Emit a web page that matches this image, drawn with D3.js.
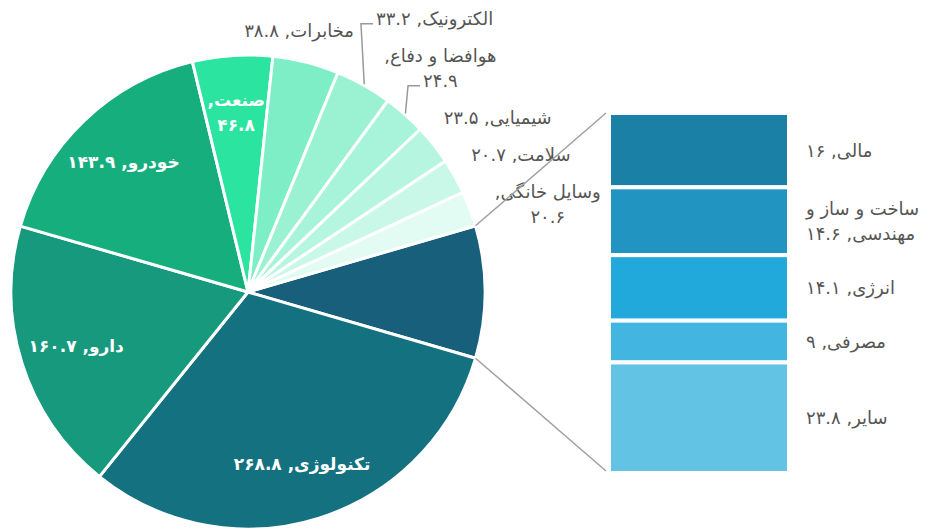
<!DOCTYPE html>
<html>
<head>
<meta charset="utf-8">
<script src="https://cdn.jsdelivr.net/npm/d3@7"></script>
<style>
  html, body { margin: 0; padding: 0; background: #fff; }
  svg { display: block; font-family: "DejaVu Sans", sans-serif; }
</style>
</head>
<body>
<svg id="chart" width="931" height="530"></svg>
<script>
// pie slices (clockwise after the "other" group)
const pieNames = ["تکنولوژی", "دارو", "خودرو", "صنعت", "مخابرات", "الکترونیک", "هوافضا و دفاع", "شیمیایی", "سلامت", "وسایل خانگی"];
const pieValues = [268.8, 160.7, 143.9, 46.8, 38.8, 33.2, 24.9, 23.5, 20.7, 20.6];
const pieColors = ["#147280", "#16997d", "#17ae7e", "#2ae49f", "#7deec6", "#9af2d2", "#a7f4da", "#b6f6e1", "#c9f8e9", "#e2fbf3"];

// breakdown of the "other" slice shown as a stacked bar
const barNames = ["مالی", "ساخت و ساز و مهندسی", "انرژی", "مصرفی", "سایر"];
const barValues = [16, 14.6, 14.1, 9, 23.8];
const barColors = ["#1b80a5", "#2194c1", "#22a9db", "#42b6e1", "#63c3e4"];
const otherColor = "#185f7c";

const insideMin = 40; // slices at least this big get the label inside
const fs = 18, fsIn = 17;
const RLM = "\u200F"; // keeps a trailing comma on the left of a wrapped line

const fa = s => String(s).replace(/\d/g, d => "۰۱۲۳۴۵۶۷۸۹"[d]);
const label = (n, v) => n + ", " + fa(v);

const svg = d3.select("#chart");
const cx = 248, cy = 292, r = 237;

// measure helper for wrapping
const meas = svg.append("text").attr("visibility", "hidden");
function textW(s, size, weight) {
  meas.attr("font-size", size).attr("font-weight", weight || "normal").text(s);
  return meas.node().getComputedTextLength();
}
function wrap(s, maxW, size, weight) {
  const words = s.split(" ");
  const lines = [];
  let cur = "";
  words.forEach(w => {
    const t = cur ? cur + " " + w : w;
    if (cur && textW(t, size, weight) > maxW) { lines.push(cur); cur = w; }
    else cur = t;
  });
  lines.push(cur);
  return lines.map(l => l + RLM);
}

const otherSum = d3.sum(barValues);
const total = otherSum + d3.sum(pieValues);
const half = otherSum / total * Math.PI;

const slices = [{ name: null, value: otherSum, color: otherColor }]
  .concat(pieNames.map((n, i) => ({ name: n, value: pieValues[i], color: pieColors[i] })));

const pie = d3.pie().sort(null).value(d => d.value)
  .startAngle(Math.PI / 2 - half).endAngle(Math.PI / 2 - half + 2 * Math.PI);
const arcs = pie(slices);
const arc = d3.arc().innerRadius(0).outerRadius(r);

const g = svg.append("g").attr("transform", `translate(${cx},${cy})`);
g.selectAll("path").data(arcs).join("path")
  .attr("d", arc)
  .attr("fill", d => d.data.color)
  .attr("stroke", "#fff")
  .attr("stroke-width", 3)
  .attr("stroke-linejoin", "round");

const pt = (a, rr) => [cx + rr * Math.sin(a), cy - rr * Math.cos(a)];

// inside labels
const rin = r * 0.76;
arcs.filter(d => d.data.name && d.data.value >= insideMin).forEach(d => {
  const mid = (d.startAngle + d.endAngle) / 2;
  const [x, y] = pt(mid, rin);
  const maxW = (d.endAngle - d.startAngle) * rin * 0.9;
  const lines = wrap(label(d.data.name, d.data.value), maxW, fsIn, "bold");
  const t = svg.append("text")
    .attr("x", x).attr("text-anchor", "middle")
    .attr("font-size", fsIn).attr("font-weight", "bold").attr("fill", "#fff");
  lines.forEach((l, i) => {
    t.append("tspan").attr("x", x)
      .attr("y", y + (i - (lines.length - 1) / 2) * 25)
      .attr("dominant-baseline", "central").text(l);
  });
});

// outside labels
const lh = 25, R1 = 250, R2 = 262;
const outs = arcs.filter(d => d.data.name && d.data.value < insideMin).map(d => {
  const mid = (d.startAngle + d.endAngle) / 2;
  const lines = wrap(label(d.data.name, d.data.value), 130, fs);
  return { d, mid, lines, ny: cy - R1 * Math.cos(mid), h: lines.length * lh + 12 };
});
const norm = a => ((a % (2 * Math.PI)) + 2 * Math.PI) % (2 * Math.PI);
const topLabels = outs.filter(o => norm(o.mid) < Math.PI / 9);
const rightLabels = outs.filter(o => norm(o.mid) >= Math.PI / 9).sort((a, b) => b.ny - a.ny);

// push right-side labels up so they do not overlap
let limit = Infinity;
rightLabels.forEach(o => {
  let y = o.ny;
  if (y + o.h / 2 > limit) y = limit - o.h / 2;
  o.y = y;
  limit = y - o.h / 2;
});

const lineGen = d3.line();
rightLabels.forEach(o => {
  const dy = o.y - cy;
  const x = Math.abs(dy) < R2 ? cx + Math.sqrt(R2 * R2 - dy * dy) : pt(o.mid, R2)[0];
  const widths = o.lines.map(l => textW(l, fs));
  const bw = d3.max(widths);
  const ccx = x + bw / 2;
  o.left = x;
  o.top = o.y - o.h / 2;
  o.bottom = o.y + o.h / 2;
  const t = svg.append("text").attr("text-anchor", "middle")
    .attr("font-size", fs).attr("fill", "#555");
  o.lines.forEach((l, i) => {
    t.append("tspan").attr("x", ccx)
      .attr("y", o.y + (i - (o.lines.length - 1) / 2) * lh)
      .attr("dominant-baseline", "central").text(l);
  });
  if (Math.abs(o.y - o.ny) > 25) {
    const ly = o.y + ((o.lines.length - 1) / 2) * lh + 5;
    const ex = ccx - widths[widths.length - 1] / 2 - 3;
    const p0 = pt(o.mid, r + 1);
    svg.append("path")
      .attr("d", lineGen([p0, [ex - 12, ly], [ex, ly]]))
      .attr("fill", "none").attr("stroke", "#999").attr("stroke-width", 1.5);
  }
});

// labels near the top: centred over the slice, moved left if they hit a right label
topLabels.forEach(o => {
  const [x0, y] = pt(o.mid, 270);
  const text = o.lines.join(" ");
  const w = textW(text, fs);
  let right = x0 + w / 2;
  rightLabels.forEach(q => {
    if (q.bottom > y - lh / 2 && q.top < y + lh / 2) right = Math.min(right, q.left - 22);
  });
  svg.append("text").attr("x", right).attr("y", y)
    .attr("text-anchor", "end").attr("dominant-baseline", "central")
    .attr("font-size", fs).attr("fill", "#555")
    .text(text);
});

// stacked bar for the "other" group
const xBar = d3.scaleBand().domain(["other"]).range([609, 789]);
const yBar = d3.scaleLinear().domain([0, otherSum]).range([113, 473]);
const stack = [];
let acc = 0;
barValues.forEach((v, i) => {
  stack.push({ name: barNames[i], value: v, color: barColors[i], y0: acc, y1: acc + v });
  acc += v;
});

svg.append("g").selectAll("rect").data(stack).join("rect")
  .attr("x", xBar("other"))
  .attr("width", xBar.bandwidth())
  .attr("y", d => yBar(d.y0))
  .attr("height", d => yBar(d.y1) - yBar(d.y0))
  .attr("fill", d => d.color)
  .attr("stroke", "#fff")
  .attr("stroke-width", 4);

const lx = xBar.range()[1] + 17;
stack.forEach(d => {
  const lines = wrap(label(d.name, d.value), 931 - lx - 4, fs);
  const yc = (yBar(d.y0) + yBar(d.y1)) / 2;
  const t = svg.append("text").attr("font-size", fs).attr("fill", "#555");
  lines.forEach((l, i) => {
    t.append("tspan").attr("x", lx)
      .attr("y", yc + (i - (lines.length - 1) / 2) * lh)
      .attr("dominant-baseline", "central").text(l);
  });
});

// connectors from the "other" slice to the bar
const a0 = arcs[0].startAngle, a1 = arcs[0].endAngle;
const bx = xBar.range()[0] - 3;
svg.append("path").attr("d", lineGen([pt(a0, r), [bx, yBar.range()[0]]]))
  .attr("stroke", "#a0a0a0").attr("stroke-width", 1.5).attr("fill", "none");
svg.append("path").attr("d", lineGen([pt(a1, r), [bx, yBar.range()[1] - 2]]))
  .attr("stroke", "#a0a0a0").attr("stroke-width", 1.5).attr("fill", "none");

meas.remove();
</script>
</body>
</html>
